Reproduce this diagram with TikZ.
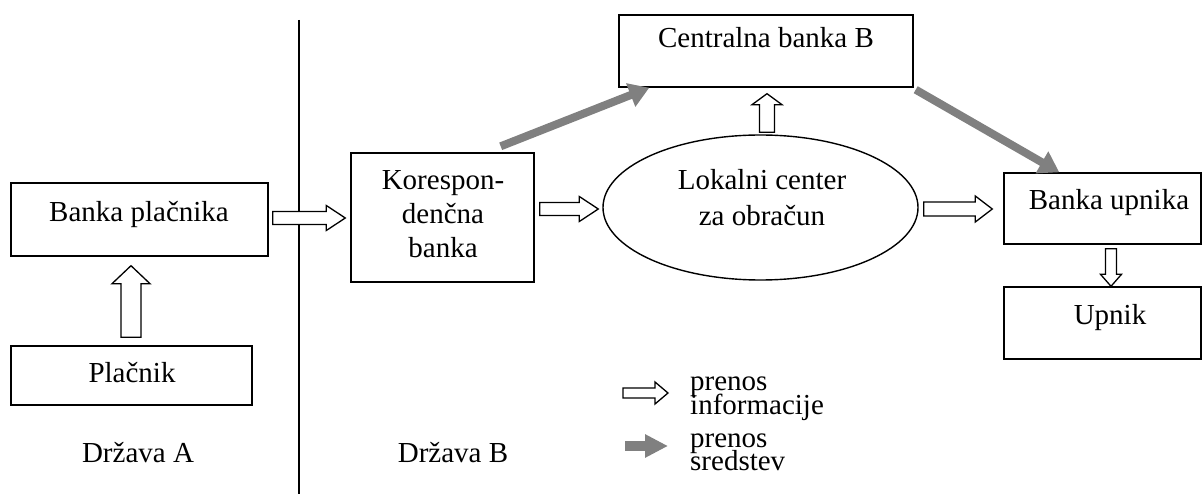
\documentclass[tikz,border=0pt]{standalone}
\usepackage{fontspec}
\setmainfont{Liberation Serif}
\usetikzlibrary{calc,shapes.geometric,arrows.meta}

% hollow block arrow: #1 start, #2 tip, #3 half shaft width, #4 half head width, #5 head length
\newcommand{\blockarr}[5]{%
  \path coordinate (ba-s) at (#1) coordinate (ba-e) at (#2);
  \path coordinate (ba-h) at ($(ba-e)!#5!(ba-s)$);
  \draw[hollow]
    ($(ba-s)!#3!90:(ba-e)$) -- ($(ba-h)!#3!90:(ba-e)$) --
    ($(ba-h)!#4!90:(ba-e)$) -- (ba-e) --
    ($(ba-h)!#4!-90:(ba-e)$) -- ($(ba-h)!#3!-90:(ba-e)$) --
    ($(ba-s)!#3!-90:(ba-e)$) -- cycle;
}

\begin{document}
\begin{tikzpicture}[x=1pt,y=-1pt,
  every node/.style={font=\fontsize{29}{34}\selectfont},
  box/.style={draw, line width=1.4pt, inner sep=0pt},
  oval/.style={draw, ellipse, line width=1.4pt, inner sep=0pt},
  txt/.style={anchor=base, inner sep=0pt},
  legtxt/.style={anchor=base west, inner sep=0pt},
  hollow/.style={draw, fill=white, line width=1.3pt, line join=miter},
  funds/.style={color={rgb,255:red,128;green,128;blue,128},
    line width=8pt, -{Triangle[width=24pt,length=20pt]}},
]
\useasboundingbox (0,0) rectangle (1203,494);

% country divider
\draw[line width=2pt] (298.5,20) -- (298.5,494);

% boxes
\node[box, minimum width=257pt, minimum height=73pt] (bp) at (139.5,219.5) {};
\node[box, minimum width=241pt, minimum height=59pt] (pl) at (131.5,375.5) {};
\node[box, minimum width=183pt, minimum height=129pt] (ko) at (442.5,217.5) {};
\node[box, minimum width=294pt, minimum height=72pt] (cb) at (766,51) {};
\node[oval, minimum width=315pt, minimum height=145pt] (lc) at (760.5,207.5) {};
\node[box, minimum width=197pt, minimum height=71pt] (bu) at (1102.5,208.5) {};
\node[box, minimum width=197pt, minimum height=72pt] (up) at (1102.5,323) {};

% texts
\node[txt] (t-bp) at (139,222) {Banka plačnika};
\node[txt] (t-pl) at (132,383) {Plačnik};
\node[txt] (t-ko1) at (443,190) {Korespon-};
\node[txt] (t-ko2) at (443,224) {denčna};
\node[txt] (t-ko3) at (443,258) {banka};
\node[txt] (t-cb) at (766,48) {Centralna banka B};
\node[txt] (t-lc1) at (762,190) {Lokalni center};
\node[txt] (t-lc2) at (762,226) {za obračun};
\node[txt] (t-bu) at (1109,210) {Banka upnika};
\node[txt] (t-up) at (1110,325) {Upnik};
\node[txt] (t-da) at (138,462) {Država A};
\node[txt] (t-db) at (453,462) {Država B};

% information flow (hollow arrows)
\blockarr{$(bp.east)+(4,-1.5)$}{$(ko.west)+(-5,0.5)$}{6.5pt}{12.5pt}{19pt}
\blockarr{$(ko.east)+(5,-8.5)$}{$(lc.west)+(-4,1.5)$}{6.5pt}{12.5pt}{19pt}
\blockarr{$(lc.east)+(5,1.5)$}{$(bu.west)+(-11,0.5)$}{7pt}{13pt}{17pt}
\blockarr{$(lc.north)+(6.5,-2)$}{$(cb.south)+(1,6)$}{7.5pt}{15pt}{11pt}
\blockarr{$(pl.north)+(-0.5,-8)$}{$(bp.south)+(-8.5,9)$}{10pt}{19pt}{18pt}
\blockarr{$(bu.south)+(8.5,4)$}{$(up.north)+(8.5,0)$}{5.5pt}{10.5pt}{12pt}

% funds flow (grey arrows)
\draw[funds] ($(ko.north east)+(-34,-6)$) -- ($(cb.south west)+(31,0)$);
\draw[funds] ($(cb.south east)+(2,2)$) -- ($(bu.north west)+(56,0)$);

% legend
\coordinate (lg1s) at (623,393);
\coordinate (lg1e) at (668,393);
\blockarr{lg1s}{lg1e}{5pt}{11pt}{13pt}
\coordinate (lg2s) at (625,446);
\coordinate (lg2e) at (668,446);
\draw[funds, line width=10pt, -{Triangle[width=22pt,length=23pt]}] (lg2s) -- (lg2e);
\node[legtxt] (lg-a1) at (690,391) {prenos};
\node[legtxt] (lg-a2) at (690,415) {informacije};
\node[legtxt] (lg-b1) at (690,447) {prenos};
\node[legtxt] (lg-b2) at (690,470) {sredstev};
\end{tikzpicture}
\end{document}
